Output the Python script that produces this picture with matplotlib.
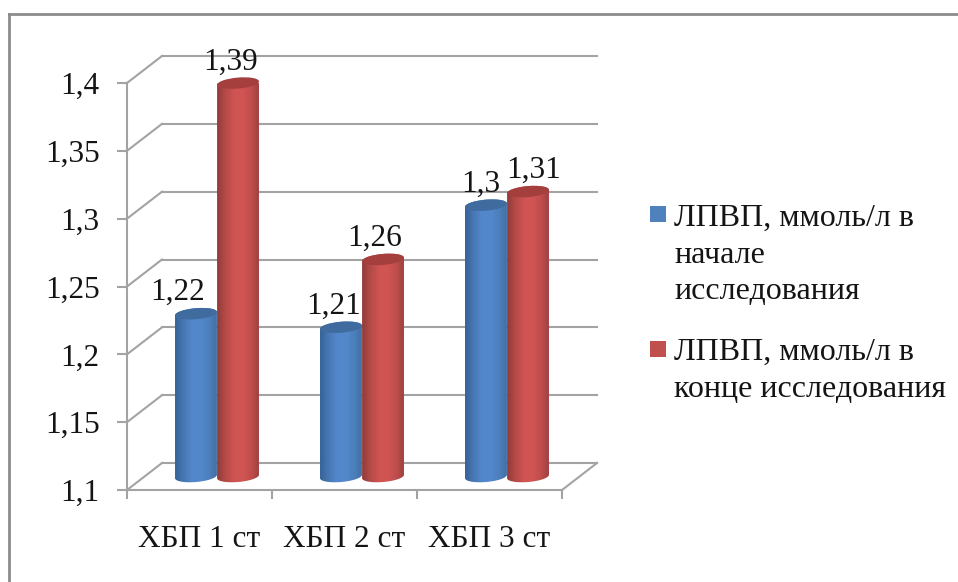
import numpy as np
import matplotlib
matplotlib.use("Agg")
import matplotlib.pyplot as plt
from matplotlib.colors import LinearSegmentedColormap
from matplotlib.lines import Line2D
from matplotlib.patches import Ellipse, Polygon, Rectangle
from matplotlib.transforms import Affine2D, IdentityTransform

plt.rcParams["font.family"] = ["Liberation Serif", "DejaVu Serif"]

# Chart values
categories = ["ХБП 1 ст", "ХБП 2 ст", "ХБП 3 ст"]
start_values = [1.22, 1.21, 1.30]
end_values = [1.39, 1.26, 1.31]
y_ticks = [1.1, 1.15, 1.2, 1.25, 1.3, 1.35, 1.4]
y_labels = ["1,1", "1,15", "1,2", "1,25", "1,3", "1,35", "1,4"]
start_labels = ["1,22", "1,21", "1,3"]
end_labels = ["1,39", "1,26", "1,31"]
series_names = ["ЛПВП, ммоль/л в\nначале\nисследования",
                "ЛПВП, ммоль/л в\nконце исследования"]

# Styling
W, H = 958, 582
GRID = "#a3a3a3"
FRAME = "#8c8c8c"
TEXT = "#141414"
FS = 22.5
DEPTH = (35, 27)          # pixel offset of the back wall from the front plane
BAR_W = 0.29              # bar width in category units
start_shift = [-18, -7, -5]   # horizontal nudge of value labels, px
end_shift = [-7, -8, 6]
blue_cmap = LinearSegmentedColormap.from_list(
    "blue", ["#325f94", "#4777b2", "#5387cb", "#5388cc", "#4c7eba", "#3f6b9e"])
red_cmap = LinearSegmentedColormap.from_list(
    "red", ["#8c3a38", "#b34a48", "#cf5452", "#d05553", "#bd4d4b", "#963f3e"])
CAP_BLUE = "#3f6b9e"
CAP_RED = "#a43f3e"

fig = plt.figure(figsize=(W / 100, H / 100), dpi=100, facecolor="white")
ax = fig.add_axes([127 / W, 1 - 490 / H, (562 - 127) / W, (490 - 83) / H])
ax.set_xlim(0, len(categories))
ax.set_ylim(1.1, 1.4)
ax.set_autoscale_on(False)
ax.patch.set_visible(False)

# Outer frame, running off the canvas on the right and at the bottom
fig.add_artist(Line2D([9 / W, 9 / W], [0, 1 - 14 / H], color=FRAME, lw=2.0))
fig.add_artist(Line2D([9 / W, 1], [1 - 14 / H, 1 - 14 / H], color=FRAME, lw=2.0))

# Axes
for side in ("top", "right"):
    ax.spines[side].set_visible(False)
for side in ("left", "bottom"):
    ax.spines[side].set_color(GRID)
    ax.spines[side].set_linewidth(1.5)
ax.set_yticks(y_ticks, y_labels)
ax.set_xticks(range(len(categories) + 1), [""] * (len(categories) + 1))
ax.set_xticks(np.arange(len(categories)) + 0.5, categories, minor=True)
ax.tick_params(axis="y", length=7.2, width=1.5, color=GRID, pad=12.5,
               labelsize=FS, labelcolor=TEXT)
ax.tick_params(axis="x", which="major", length=6.5, width=1.5, color=GRID)
ax.tick_params(axis="x", which="minor", length=0, pad=25,
               labelsize=FS, labelcolor=TEXT)

# Back wall gridlines, side wall and floor diagonals
back = ax.transData + Affine2D().translate(*DEPTH)
x_end = len(categories)
for v in y_ticks:
    ax.plot([0, x_end], [v, v], color=GRID, lw=1.5, transform=back,
            clip_on=False, zorder=1, solid_capstyle="projecting")
    x0, y0 = ax.transData.transform((0, v))
    ax.add_line(Line2D([x0, x0 + DEPTH[0]], [y0, y0 + DEPTH[1]], color=GRID, lw=1.5,
                       transform=IdentityTransform(), clip_on=False, zorder=1))
x0, y0 = ax.transData.transform((x_end, 1.1))
ax.add_line(Line2D([x0, x0 + DEPTH[0]], [y0, y0 + DEPTH[1]], color=GRID, lw=1.5,
                   transform=IdentityTransform(), clip_on=False, zorder=1))

# Cylinders stand halfway into the depth of the box
mid = (DEPTH[0] / 2, DEPTH[1] / 2)
TILT = np.radians(5)
CAP_B = 5.5


def arc(cx, cy, a, t0, t1, n=40):
    t = np.linspace(t0, t1, n)
    x = cx + a * np.cos(t) * np.cos(TILT) - CAP_B * np.sin(t) * np.sin(TILT)
    y = cy + a * np.cos(t) * np.sin(TILT) + CAP_B * np.sin(t) * np.cos(TILT)
    return np.column_stack([x, y])


def cylinder(x_center, value, cmap, cap_color, z):
    left, base = ax.transData.transform((x_center - BAR_W / 2, 1.1))
    right, top = ax.transData.transform((x_center + BAR_W / 2, value))
    left, right = left + mid[0], right + mid[0]
    base, top = base + mid[1], top + mid[1]
    cx, a = (left + right) / 2, (right - left) / 2
    body = np.vstack([arc(cx, base, a, np.pi, 2 * np.pi),
                      arc(cx, top, a, 0, np.pi)])
    clip = Polygon(body, closed=True, transform=IdentityTransform(),
                   fc="none", ec="none")
    ax.add_patch(clip)
    clip.set_clip_on(False)
    shade = np.linspace(0, 1, 128)[None, :]
    img = ax.imshow(shade, cmap=cmap, aspect="auto", zorder=z, interpolation="bilinear",
                    extent=(left - 1, right + 1, base - 8, top + 8),
                    transform=IdentityTransform())
    img.set_clip_path(clip)
    ax.add_patch(Ellipse((cx, top), 2 * a, 2 * CAP_B, angle=np.degrees(TILT),
                         fc=cap_color, ec="none", transform=IdentityTransform(),
                         zorder=z + 0.1, clip_on=False))


for i in range(len(categories)):
    cylinder(i + 0.5 - BAR_W / 2, start_values[i], blue_cmap, CAP_BLUE, 3 + i)
    cylinder(i + 0.5 + BAR_W / 2, end_values[i], red_cmap, CAP_RED, 3.5 + i)

    # Value labels above the bars
    for offset, val, lab, nudge in (
            (-BAR_W / 2, start_values[i], start_labels[i], start_shift[i]),
            (BAR_W / 2, end_values[i], end_labels[i], end_shift[i])):
        ax.annotate(lab, xy=(i + 0.5 + offset, val),
                    xytext=(mid[0] + nudge, mid[1] + 21), textcoords="offset pixels",
                    ha="center", va="center", fontsize=FS, color=TEXT,
                    annotation_clip=False, zorder=10)

# Legend
swatches = ["#4f81bd", "#c0504d"]
swatch_tops = [206, 341]
text_tops = [204, 338]
for color, top, text_top, name in zip(swatches, swatch_tops, text_tops, series_names):
    fig.add_artist(Rectangle((650 / W, 1 - (top + 16) / H), 16 / W, 16 / H,
                             fc=color, ec="none", transform=fig.transFigure))
    fig.text(674 / W, 1 - text_top / H, name, ha="left", va="top",
             fontsize=23, color=TEXT, linespacing=1.35)

fig.savefig("out.png", dpi=100, facecolor="white")
